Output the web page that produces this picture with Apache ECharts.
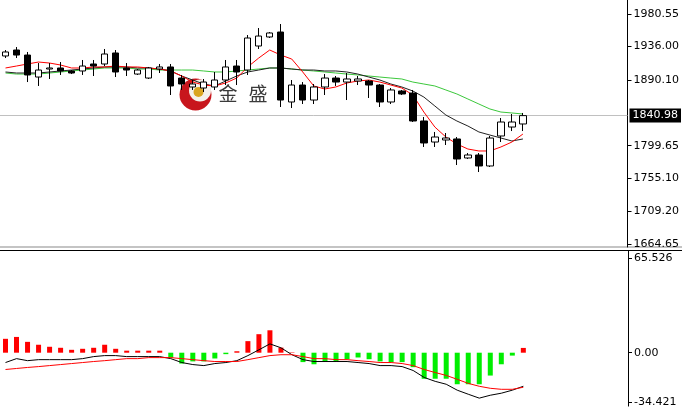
<!DOCTYPE html>
<html><head><meta charset="utf-8">
<script src="https://cdn.jsdelivr.net/npm/echarts@6/dist/echarts.min.js"></script>
<style>html,body{margin:0;padding:0;background:#fff}#c{width:682px;height:408px}</style>
</head><body><div id="c"></div>
<script>
const opens = [1922.9,1931.1,1924.2,1894.0,1905.0,1906.4,1902.3,1902.3,1911.9,1911.9,1927.0,1906.4,1898.1,1892.6,1905.0,1907.8,1892.6,1880.3,1878.9,1880.3,1889.9,1909.1,1903.6,1936.6,1949.0,1955.8,1859.7,1883.0,1862.4,1880.3,1892.6,1887.1,1888.5,1888.5,1883.0,1859.7,1874.8,1872.0,1833.6,1804.7,1807.5,1808.9,1782.8,1786.9,1771.8,1813.0,1825.3,1829.5];
const closes = [1928.4,1924.2,1896.8,1903.6,1906.4,1902.3,1899.5,1909.1,1909.1,1925.6,1900.9,1903.6,1903.6,1906.4,1907.8,1881.7,1884.4,1884.4,1887.1,1889.9,1907.8,1900.9,1947.6,1950.3,1954.5,1862.4,1883.0,1862.4,1880.3,1892.6,1887.1,1891.3,1891.3,1883.0,1859.7,1876.2,1870.7,1833.6,1803.4,1811.6,1810.2,1781.4,1786.9,1771.8,1810.2,1832.2,1832.2,1840.98];
const lows = [1920.1,1920.1,1887.1,1881.7,1891.3,1896.8,1898.1,1896.8,1895.4,1909.1,1894.0,1895.4,1896.8,1891.3,1899.5,1869.3,1876.2,1876.2,1873.4,1876.2,1883.0,1883.0,1896.8,1932.5,1947.6,1852.8,1851.4,1856.9,1856.9,1869.3,1881.7,1862.4,1883.0,1865.2,1852.8,1856.9,1869.3,1832.2,1797.9,1797.9,1800.6,1773.1,1781.4,1763.5,1770.4,1804.7,1819.8,1819.8];
const highs = [1931.1,1935.2,1928.4,1913.2,1913.2,1914.6,1903.6,1917.4,1917.4,1932.5,1931.1,1913.2,1905.0,1907.8,1911.9,1911.9,1896.8,1889.9,1891.3,1900.9,1917.4,1917.4,1951.7,1961.3,1955.8,1966.8,1889.9,1887.1,1884.4,1898.1,1895.4,1899.5,1895.4,1889.9,1884.4,1878.9,1876.2,1876.2,1839.1,1818.5,1817.1,1811.6,1789.6,1789.6,1813.0,1837.7,1843.2,1844.6];

const maRed = [1906.4,1909.1,1911.9,1914.6,1913.2,1910.5,1906.4,1906.4,1907.8,1907.8,1909.1,1907.8,1907.8,1906.4,1905.0,1902.3,1895.4,1887.1,1883.0,1881.7,1885.8,1892.6,1907.8,1920.1,1931.1,1924.2,1918.7,1900.9,1881.7,1877.5,1880.3,1885.8,1888.5,1889.9,1887.1,1883.0,1878.9,1869.3,1845.9,1825.3,1811.6,1802.0,1795.1,1792.4,1792.4,1797.9,1804.7,1815.7];
const maBlack = [1900.9,1899.5,1899.5,1899.5,1900.9,1902.3,1903.6,1905.0,1906.4,1907.8,1907.8,1907.8,1906.4,1906.4,1905.0,1902.3,1895.4,1889.9,1884.4,1881.7,1888.5,1895.4,1900.9,1903.6,1906.4,1906.4,1905.0,1903.6,1903.6,1902.3,1902.3,1900.9,1898.1,1894.0,1889.9,1884.4,1880.3,1874.8,1866.5,1854.2,1841.8,1833.6,1826.7,1818.5,1814.3,1810.2,1806.1,1808.9];
const maGreen = [1899.5,1898.1,1898.1,1898.1,1899.5,1900.9,1902.3,1903.6,1905.0,1906.4,1906.4,1906.4,1905.0,1905.0,1903.6,1903.6,1903.6,1903.6,1902.3,1900.9,1900.9,1902.3,1903.6,1905.0,1906.4,1906.4,1905.0,1903.6,1902.3,1900.9,1899.5,1898.1,1896.8,1895.4,1894.0,1892.6,1891.3,1887.1,1884.4,1881.7,1876.2,1870.7,1863.8,1856.9,1850.1,1845.9,1844.6,1843.2];

const macdLine = [-6.8,-4.1,-5.5,-4.8,-4.8,-4.8,-4.8,-4.1,-2.7,-2.0,-2.0,-2.7,-2.7,-2.7,-2.7,-4.1,-6.8,-8.2,-8.9,-7.5,-6.8,-5.5,-2.0,2.0,6.1,3.4,-1.4,-4.8,-6.1,-6.1,-6.1,-6.1,-6.8,-7.5,-8.9,-8.9,-9.6,-12.3,-17.1,-19.8,-21.8,-25.9,-28.7,-31.4,-29.4,-28.0,-25.9,-23.2];
const signalLine = [-11.6,-10.9,-10.2,-9.6,-8.9,-8.2,-7.5,-6.8,-6.1,-5.5,-4.8,-4.1,-4.1,-3.4,-3.4,-3.4,-4.1,-4.8,-5.5,-6.1,-6.1,-6.1,-4.8,-3.4,-2.0,-1.4,-1.4,-2.7,-4.1,-4.1,-4.8,-4.8,-5.5,-6.1,-6.8,-6.8,-7.5,-8.9,-11.6,-13.7,-15.7,-18.4,-21.2,-23.2,-24.6,-25.3,-25.3,-23.9];
const macdHist = [9.6,10.9,7.5,5.5,4.1,3.4,2.0,2.7,3.4,5.5,2.7,1.4,1.4,1.4,1.4,-3.4,-7.5,-6.0,-6.0,-4.0,-1.0,1.0,8.0,12.8,15.5,3.5,0.3,-6.5,-8.0,-5.7,-5.7,-4.5,-3.3,-4.5,-6.0,-6.5,-6.5,-10.0,-18.0,-18.0,-18.0,-21.8,-21.8,-21.8,-15.8,-8.0,-2.0,3.3];

const priceTicks = [1980.55, 1936.00, 1890.10, 1799.65, 1755.10, 1709.20, 1664.65];
const currentPrice = 1840.98;
const macdTicks = [65.526, 0, -34.421];
const macdTickLabels = ['65.526', '0.00', '-34.421'];

const slotCount = 57;
const categories = [];
for (let i = 0; i < slotCount; i++) categories.push(String(i + 1));
const candles = opens.map((o, i) => [o, closes[i], lows[i], highs[i]]);

const chart = echarts.init(document.getElementById('c'), null, {renderer: 'canvas'});
const labelFont = {color: '#000', fontSize: 11, fontFamily: 'DejaVu Sans'};
const lineS = (name, data, color, xi, yi) => ({
  name, type: 'line', data, xAxisIndex: xi, yAxisIndex: yi, symbol: 'none',
  lineStyle: {color, width: 1}, z: 4, silent: true
});

chart.setOption({
  animation: false,
  backgroundColor: '#fff',
  grid: [
    {left: 0, width: 628, top: 0, height: 247},
    {left: 0, width: 628, top: 251, height: 157}
  ],
  xAxis: [
    {type: 'category', gridIndex: 0, data: categories, boundaryGap: true, show: false},
    {type: 'category', gridIndex: 1, data: categories, boundaryGap: true, show: false}
  ],
  yAxis: [
    {type: 'value', gridIndex: 0, position: 'right', min: 1660.5, max: 1999.8,
     axisLine: {show: true, lineStyle: {color: '#000', width: 1}},
     axisTick: {show: true, length: 4, customValues: priceTicks, lineStyle: {color: '#000'}},
     axisLabel: Object.assign({customValues: priceTicks, margin: 6, formatter: v => Number(v).toFixed(2)}, labelFont),
     splitLine: {show: false}},
    {type: 'value', gridIndex: 1, position: 'right', min: -36.9, max: 70.3,
     axisLine: {show: true, lineStyle: {color: '#000', width: 1}},
     axisTick: {show: true, length: 4, customValues: macdTicks, lineStyle: {color: '#000'}},
     axisLabel: Object.assign({customValues: macdTicks, margin: 6,
       formatter: v => { const k = macdTicks.findIndex(t => Math.abs(t - v) < 1e-6); return k >= 0 ? macdTickLabels[k] : ''; }}, labelFont),
     splitLine: {show: false}}
  ],
  graphic: [
    {type: 'rect', shape: {x: 0, y: 246, width: 682, height: 2}, style: {fill: '#c4c4c4'}, z: 0},
    {type: 'rect', shape: {x: 0, y: 250, width: 682, height: 1}, style: {fill: '#000'}, z: 0},
    {type: 'circle', shape: {cx: 195.5, cy: 94.5, r: 16}, style: {fill: '#c8161d'}, z: 0},
    {type: 'circle', shape: {cx: 200, cy: 90.5, r: 11}, style: {fill: '#f4f1ea'}, z: 0},
    {type: 'circle', shape: {cx: 198.5, cy: 92, r: 5}, style: {fill: '#d9a520'}, z: 0},
    {type: 'text', style: {x: 228, y: 94, text: '金', fill: '#3a3a3a', font: '19px "Noto Sans CJK SC"', textAlign: 'center', textVerticalAlign: 'middle'}, z: 0},
    {type: 'text', style: {x: 258, y: 94, text: '盛', fill: '#3a3a3a', font: '19px "Noto Sans CJK SC"', textAlign: 'center', textVerticalAlign: 'middle'}, z: 0}
  ],
  series: [
    lineS('MA-green', maGreen, '#3cc83c', 0, 0),
    lineS('MA-black', maBlack, '#222', 0, 0),
    lineS('MA-red', maRed, '#ff0000', 0, 0),
    {name: 'price', type: 'candlestick', xAxisIndex: 0, yAxisIndex: 0, data: candles, barWidth: 7, z: 5,
     itemStyle: {color: '#fff', color0: '#000', borderColor: '#000', borderColor0: '#000', borderWidth: 1},
     markLine: {silent: true, symbol: 'none', animation: false, z: 1,
       lineStyle: {color: '#c0c0c0', type: 'solid', width: 1},
       label: {show: true, position: 'end', distance: 2, formatter: () => currentPrice.toFixed(2),
         color: '#fff', backgroundColor: '#000', padding: [2, 3, 1, 3], fontSize: 11, fontFamily: 'DejaVu Sans'},
       data: [{yAxis: currentPrice}]}},
    {name: 'hist', type: 'bar', xAxisIndex: 1, yAxisIndex: 1, data: macdHist, barWidth: 5, z: 2,
     itemStyle: {color: p => p.value >= 0 ? '#ff0000' : '#00ee00'}},
    lineS('MACD', macdLine, '#000', 1, 1),
    lineS('Signal', signalLine, '#ff0000', 1, 1)
  ]
});
</script>
</body></html>
